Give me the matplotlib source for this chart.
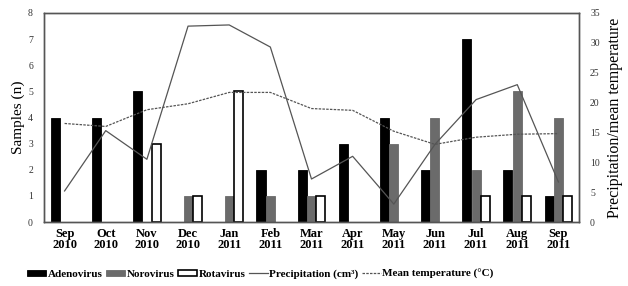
import matplotlib
matplotlib.use("Agg")
import matplotlib.pyplot as plt
from matplotlib.patches import Patch
from matplotlib.lines import Line2D
import numpy as np

months = ["Sep\n2010", "Oct\n2010", "Nov\n2010", "Dec\n2010", "Jan\n2011", "Feb\n2011",
          "Mar\n2011", "Apr\n2011", "May\n2011", "Jun\n2011", "Jul\n2011", "Aug\n2011", "Sep\n2011"]
adenovirus = [4, 4, 5, 0, 0, 2, 2, 3, 4, 2, 7, 2, 1]
norovirus = [0, 0, 0, 1, 1, 1, 1, 0, 3, 4, 2, 5, 4]
rotavirus = [0, 0, 3, 1, 5, 0, 1, 0, 0, 0, 1, 1, 1]
precipitation = [5.2, 15.3, 10.5, 32.8, 33.0, 29.3, 7.2, 11.0, 3.0, 13.0, 20.5, 23.0, 6.7]
temperature = [16.5, 16.0, 18.8, 19.8, 21.7, 21.7, 19.0, 18.7, 15.2, 13.0, 14.2, 14.7, 14.8]

plt.rcParams['font.family'] = ['Liberation Serif', 'DejaVu Serif']

fig = plt.figure(figsize=(6.28, 2.86), dpi=100)
ax = fig.add_axes([44/628, 1-222/286, (579-44)/628, (222-13)/286])
x = np.arange(len(months))
w = 0.22
off = 0.227

def lws(vals, lw):
    return [lw if v > 0 else 0 for v in vals]

ax.bar(x - off, adenovirus, w, color='black', edgecolor='black', linewidth=lws(adenovirus, 0.6))
ax.bar(x, norovirus, w, color='#6b6b6b', edgecolor='#6b6b6b', linewidth=lws(norovirus, 0.6))
ax.bar(x + off, rotavirus, w, color='white', edgecolor='black', linewidth=lws(rotavirus, 1.2))
ax.set_xlim(-0.5, 12.5)
ax.set_ylim(0, 8)
ax.set_yticks(range(0, 9))
ax.set_xticks(x)
ax.set_xticklabels(months, fontsize=9, fontweight='bold', linespacing=0.95)
ax.tick_params(axis='x', length=0, pad=4)
ax.tick_params(axis='y', length=0, pad=8, labelsize=7, labelcolor='#333333')
ax.set_ylabel('Samples (n)', fontsize=11, labelpad=2)
for s in ax.spines.values():
    s.set_color('#555555')
    s.set_linewidth(1.0)

ax2 = ax.twinx()
ax2.plot(x, precipitation, color='#555555', linewidth=0.9)
ax2.plot(x, temperature, color='#555555', linewidth=0.9, linestyle=(0, (2, 1)))
ax2.set_ylim(0, 35)
ax2.set_yticks(range(0, 36, 5))
ax2.tick_params(axis='y', length=0, pad=8, labelsize=7, labelcolor='#333333')
ax2.set_ylabel('Precipitation/mean temperature', fontsize=11.5, labelpad=5)
for s in ax2.spines.values():
    s.set_color('#555555')
    s.set_linewidth(1.0)

handles = [
    Patch(facecolor='black', edgecolor='black', linewidth=0.6),
    Patch(facecolor='#6b6b6b', edgecolor='#6b6b6b', linewidth=0.6),
    Patch(facecolor='white', edgecolor='black', linewidth=1.2),
    Line2D([], [], color='#555555', linewidth=0.9),
    Line2D([], [], color='#555555', linewidth=0.9, linestyle=(0, (2, 1))),
]
labels = ['Adenovirus', 'Norovirus', 'Rotavirus', 'Precipitation (cm³)', 'Mean temperature (°C)']
fig.legend(handles, labels, loc='center', bbox_to_anchor=(0.415, 1-274/286), ncol=5,
           frameon=False, prop={'weight': 'bold', 'size': 8}, handlelength=1.7,
           handleheight=0.5, handletextpad=0.15, columnspacing=0.3, borderaxespad=0)

fig.savefig('out.png', dpi=100)
